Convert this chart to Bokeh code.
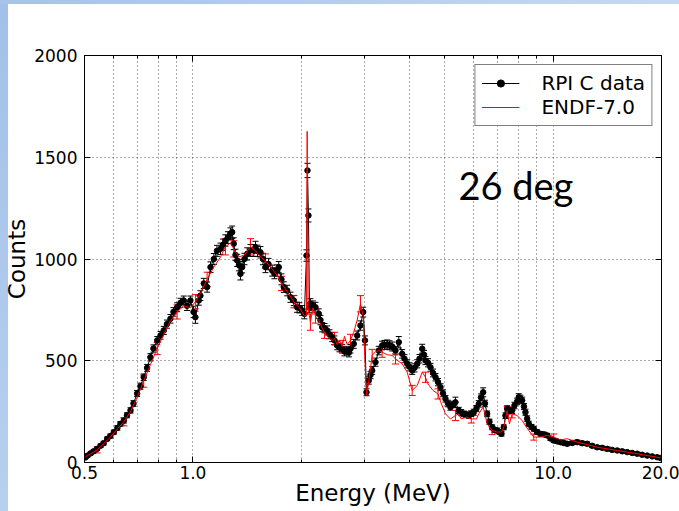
from bokeh.plotting import figure
from bokeh.models import (ColumnDataSource, Whisker, TeeHead, FixedTicker, LogAxis,
                          LinearAxis, Legend, LegendItem, Label, Range1d,
                          CustomJSTickFormatter)
from bokeh.embed import file_html
from bokeh.resources import INLINE

# ---------------- data ----------------
data_energy = [0.503, 0.510, 0.520, 0.530, 0.542, 0.554, 0.565, 0.578, 0.590, 0.603,
               0.617, 0.629, 0.643, 0.656, 0.671, 0.684, 0.700, 0.715, 0.730, 0.746,
               0.762, 0.777, 0.796, 0.813, 0.830, 0.847, 0.866, 0.883, 0.904, 0.924,
               0.943, 0.963, 0.984, 1.004, 1.016, 1.038, 1.049, 1.072, 1.095, 1.119,
               1.143, 1.166, 1.193, 1.212, 1.231, 1.251, 1.271, 1.285, 1.298, 1.313,
               1.327, 1.342, 1.355, 1.370, 1.390, 1.415, 1.445, 1.476, 1.492, 1.511,
               1.540, 1.565, 1.590, 1.621, 1.660, 1.684, 1.714, 1.731, 1.761, 1.788,
               1.827, 1.866, 1.906, 1.947, 1.976, 2.011, 2.040, 2.067, 2.080, 2.093,
               2.107, 2.120, 2.154, 2.189, 2.236, 2.260, 2.285, 2.319, 2.359, 2.394,
               2.436, 2.472, 2.515, 2.552, 2.597, 2.635, 2.681, 2.712, 2.738, 2.796,
               2.858, 2.919, 2.970, 3.004, 3.033, 3.078, 3.112, 3.146, 3.213, 3.281,
               3.353, 3.403, 3.462, 3.514, 3.575, 3.651, 3.729, 3.811, 3.867, 3.935,
               3.993, 4.063, 4.123, 4.195, 4.257, 4.331, 4.381, 4.423, 4.495, 4.567,
               4.641, 4.716, 4.792, 4.869, 4.947, 5.026, 5.107, 5.189, 5.273, 5.357,
               5.471, 5.556, 5.649, 5.740, 5.833, 5.927, 6.022, 6.127, 6.218, 6.306,
               6.395, 6.469, 6.561, 6.658, 6.774, 6.874, 6.994, 7.098, 7.189, 7.296,
               7.376, 7.456, 7.566, 7.698, 7.812, 7.948, 8.030, 8.117, 8.206, 8.301,
               8.381, 8.473, 8.560, 8.709, 8.838, 9.021, 9.225, 9.434, 9.629, 9.834,
               10.044, 10.265, 10.484, 10.707, 10.942, 11.298, 11.665, 12.044, 12.435, 12.840,
               13.257, 13.688, 14.132, 14.592, 15.066, 15.556, 16.061, 16.583, 17.122, 17.678,
               18.253, 18.846, 19.458, 19.874]

data_counts = [25, 34, 45, 55, 67, 82, 95, 116, 130, 149,
               170, 190, 206, 232, 256, 290, 339, 375, 419, 465,
               517, 560, 600, 625, 649, 680, 706, 740, 763, 785,
               796, 770, 796, 740, 714, 796, 820, 880, 862, 960,
               1000, 1040, 1050, 1070, 1091, 1105, 1124, 1132, 1075, 1020,
               993, 970, 927, 960, 1000, 1025, 1042, 1042, 1058, 1040,
               1033, 1000, 960, 975, 943, 930, 943, 960, 900, 862,
               845, 812, 796, 763, 760, 747, 730, 1017, 1435, 1214,
               760, 780, 770, 763, 731, 700, 665, 660, 649, 630,
               616, 600, 575, 565, 559, 545, 550, 540, 559, 583,
               624, 673, 739, 600, 345, 403, 430, 452, 493, 550,
               575, 578, 580, 576, 570, 550, 591, 534, 510, 485,
               470, 452, 465, 485, 510, 559, 530, 501, 490, 468,
               440, 419, 395, 370, 340, 313, 290, 272, 285, 296,
               256, 245, 239, 235, 231, 240, 247, 265, 288, 320,
               345, 290, 239, 200, 173, 160, 157, 150, 141, 173,
               230, 264, 256, 256, 280, 300, 321, 315, 305, 275,
               247, 215, 190, 175, 166, 150, 141, 138, 133, 118,
               108, 104, 100, 96, 92, 96, 100, 95, 92, 82,
               75, 72, 67, 62, 59, 55, 51, 47, 43, 38,
               34, 30, 26, 22]

data_error = [6, 6, 7, 7, 8, 8, 9, 9, 10, 10,
              11, 11, 12, 12, 13, 14, 15, 15, 16, 17,
              18, 18, 19, 19, 20, 20, 21, 21, 22, 22,
              22, 23, 22, 28, 30, 23, 24, 25, 25, 26,
              27, 27, 28, 28, 28, 29, 29, 30, 29, 28,
              30, 28, 30, 28, 28, 30, 29, 29, 29, 28,
              28, 28, 27, 28, 27, 27, 28, 28, 27, 26,
              26, 25, 25, 25, 25, 24, 24, 28, 35, 32,
              24, 25, 24, 24, 24, 23, 23, 23, 22, 22,
              22, 22, 21, 21, 21, 21, 21, 21, 21, 22,
              22, 23, 24, 22, 17, 18, 18, 19, 20, 21,
              21, 22, 22, 22, 22, 21, 28, 21, 20, 20,
              20, 19, 20, 20, 21, 22, 21, 20, 20, 19,
              19, 18, 18, 17, 17, 16, 16, 15, 16, 25,
              15, 15, 14, 14, 14, 14, 15, 15, 16, 17,
              22, 16, 14, 13, 12, 12, 12, 11, 11, 12,
              14, 15, 15, 15, 16, 16, 17, 16, 16, 15,
              15, 14, 13, 12, 12, 11, 11, 11, 10, 10,
              10, 9, 9, 9, 9, 9, 9, 9, 9, 8,
              8, 8, 7, 7, 7, 7, 7, 6, 6, 6,
              6, 5, 5, 5]

endf_energy = [0.503, 0.520, 0.542, 0.565, 0.590, 0.617, 0.643, 0.671, 0.700, 0.730,
               0.762, 0.796, 0.830, 0.866, 0.904, 0.943, 0.984, 1.016, 1.049, 1.095,
               1.143, 1.193, 1.231, 1.271, 1.298, 1.342, 1.390, 1.445, 1.492, 1.540,
               1.590, 1.660, 1.714, 1.761, 1.827, 1.906, 1.976, 2.040, 2.067, 2.076,
               2.088, 2.120, 2.154, 2.189, 2.236, 2.285, 2.319, 2.359, 2.436, 2.472,
               2.515, 2.552, 2.597, 2.635, 2.681, 2.738, 2.796, 2.858, 2.919, 2.970,
               3.004, 3.033, 3.078, 3.146, 3.213, 3.281, 3.353, 3.462, 3.575, 3.651,
               3.811, 3.935, 4.063, 4.195, 4.331, 4.423, 4.495, 4.641, 4.792, 4.869,
               5.026, 5.189, 5.357, 5.471, 5.556, 5.740, 5.927, 6.127, 6.218, 6.395,
               6.561, 6.774, 6.994, 7.189, 7.296, 7.376, 7.456, 7.566, 7.698, 7.948,
               8.206, 8.560, 8.838, 9.225, 9.629, 10.044, 10.484, 10.942, 11.665, 12.435,
               13.257, 14.132, 15.066, 16.061, 17.122, 18.253, 19.458, 19.874]

endf_counts = [28, 42, 62, 92, 125, 165, 200, 250, 320, 400,
               480, 560, 630, 695, 740, 770, 760, 790, 830, 900,
               960, 1010, 1060, 1080, 1050, 1010, 1020, 1060, 1040, 1010,
               990, 950, 920, 880, 840, 790, 760, 720, 720, 1627,
               760, 690, 760, 720, 700, 660, 640, 620, 600, 610,
               580, 600, 570, 620, 580, 600, 640, 700, 780, 720,
               500, 330, 400, 526, 545, 550, 542, 530, 526, 509,
               485, 444, 354, 378, 444, 419, 386, 354, 337, 300,
               239, 214, 231, 239, 214, 223, 214, 214, 239, 272,
               190, 157, 149, 150, 174, 215, 255, 190, 239, 231,
               206, 157, 125, 125, 133, 125, 111, 117, 100, 88,
               75, 67, 59, 51, 43, 34, 26, 23]

endf_error = [0, 0, 15, 0, 0, 0, 20, 0, 0, 30,
              0, 30, 0, 0, 35, 0, 0, 35, 0, 35,
              0, 0, 40, 0, 40, 0, 0, 40, 0, 0,
              35, 0, 0, 35, 0, 30, 0, 0, 0, 0,
              0, 40, 0, 35, 0, 0, 30, 0, 0, 30,
              0, 0, 30, 0, 0, 30, 0, 0, 40, 0,
              0, 0, 0, 30, 0, 0, 25, 0, 0, 25,
              0, 0, 25, 0, 0, 25, 0, 0, 25, 0,
              0, 0, 25, 0, 0, 0, 20, 0, 0, 0,
              0, 20, 0, 0, 0, 0, 20, 0, 20, 0,
              0, 0, 15, 0, 0, 15, 0, 0, 10, 0,
              0, 10, 0, 0, 8, 0, 0, 0]

x_major_ticks = [0.5, 1, 10, 20]
x_minor_ticks = [0.6, 0.7, 0.8, 0.9, 2, 3, 4, 5, 6, 7, 8, 9]
y_ticks = [0, 500, 1000, 1500, 2000]

assert len(data_energy) == len(data_counts) == len(data_error)
assert len(endf_energy) == len(endf_counts) == len(endf_error)

# ---------------- sources ----------------
data_src = ColumnDataSource(dict(
    e=data_energy, c=data_counts,
    lo=[c - s for c, s in zip(data_counts, data_error)],
    hi=[c + s for c, s in zip(data_counts, data_error)]))
endf_src = ColumnDataSource(dict(e=endf_energy, c=endf_counts))
eb = [(e, c, s) for e, c, s in zip(endf_energy, endf_counts, endf_error) if s > 0]
endf_err_src = ColumnDataSource(dict(
    e=[t[0] for t in eb],
    lo=[t[1] - t[2] for t in eb],
    hi=[t[1] + t[2] for t in eb]))

FONT = "DejaVu Sans"

p = figure(width=679, height=511, x_axis_type="log",
           x_range=Range1d(0.5, 20), y_range=Range1d(0, 2000),
           output_backend="svg", toolbar_location=None,
           min_border_left=84, min_border_right=18,
           min_border_top=55, min_border_bottom=49)
p.background_fill_color = "white"
p.border_fill_color = None
p.outline_line_color = "black"
p.outline_line_width = 1

xticker = FixedTicker(ticks=x_major_ticks, minor_ticks=x_minor_ticks)
yticker = FixedTicker(ticks=y_ticks, minor_ticks=[])

xa = p.xaxis[0]
xa.ticker = xticker
xa.formatter = CustomJSTickFormatter(code="return tick.toFixed(1);")
xa.axis_label = "Energy (MeV)"
ya = p.yaxis[0]
ya.ticker = yticker
ya.axis_label = "Counts"

for ax in (xa, ya):
    ax.axis_label_text_font = FONT
    ax.axis_label_text_font_size = "23px"
    ax.axis_label_text_font_style = "normal"
    ax.axis_label_text_color = "black"
    ax.major_label_text_font = FONT
    ax.major_label_text_font_size = "17px"
    ax.major_label_text_color = "black"
    ax.axis_line_color = "black"
    ax.major_tick_line_color = "black"
    ax.minor_tick_line_color = "black"
    ax.major_tick_in = 6
    ax.major_tick_out = 0
    ax.minor_tick_in = 3
    ax.minor_tick_out = 0
xa.major_label_standoff = 3
xa.axis_label_standoff = -2
ya.major_label_standoff = 7
ya.axis_label_standoff = 1

blank = CustomJSTickFormatter(code="return '';")
top = LogAxis(ticker=xticker, formatter=blank,
              major_tick_in=6, major_tick_out=0, minor_tick_in=3, minor_tick_out=0,
              major_label_standoff=0, axis_line_color="black")
right = LinearAxis(ticker=yticker, formatter=blank,
                   major_tick_in=6, major_tick_out=0, minor_tick_in=0, minor_tick_out=0,
                   major_label_standoff=0, axis_line_color="black")
p.add_layout(top, "above")
p.add_layout(right, "right")

p.xgrid.ticker = xticker
p.ygrid.ticker = yticker
p.xgrid.grid_line_color = "#555555"
p.xgrid.grid_line_dash = "1 3"
p.xgrid.minor_grid_line_color = "#555555"
p.xgrid.minor_grid_line_dash = "1 3"
p.ygrid.grid_line_color = "#555555"
p.ygrid.grid_line_dash = "1 3"

# ---------------- glyphs ----------------
d_line = p.line("e", "c", source=data_src, line_color="black", line_width=1)
d_pts = p.scatter("e", "c", source=data_src, size=5.5, fill_color="black",
                  line_color="black")
p.add_layout(Whisker(source=data_src, base="e", lower="lo", upper="hi",
                     dimension="height", line_color="black", line_width=1,
                     upper_head=TeeHead(size=6, line_color="black", line_width=1),
                     lower_head=TeeHead(size=6, line_color="black", line_width=1)))
r_line = p.line("e", "c", source=endf_src, line_color="#ff0000", line_width=1)
p.add_layout(Whisker(source=endf_err_src, base="e", lower="lo", upper="hi",
                     dimension="height", line_color="#ff0000", line_width=1,
                     upper_head=TeeHead(size=7, line_color="#ff0000", line_width=1),
                     lower_head=TeeHead(size=7, line_color="#ff0000", line_width=1)))

legend = Legend(items=[LegendItem(label="RPI C data", renderers=[d_line, d_pts]),
                       LegendItem(label="ENDF-7.0", renderers=[r_line])],
                location="top_right", margin=9, padding=6, spacing=0,
                glyph_width=38, glyph_height=18, label_height=18,
                label_standoff=22, label_text_font=FONT,
                label_text_font_size="20px", label_text_color="black",
                border_line_color="black", border_line_width=1,
                background_fill_color="white", background_fill_alpha=1)
p.add_layout(legend)

p.add_layout(Label(x=5.46, y=1366, text="26 deg", text_font="Lato",
                   text_font_size="38px", text_color="black",
                   text_baseline="middle", text_align="left"))

html = file_html(p, INLINE)
style = ("<style>html, body { background: "
         "linear-gradient(to right, #a6c3ea, #c6d9f2) left top / 100% 4px no-repeat, "
         "linear-gradient(to bottom, #a2c0e8, #b8d0ef) left top / 8px 100% no-repeat, "
         "#ffffff; }</style>")
html = html.replace("</head>", style + "</head>", 1)
open("out.html", "w").write(html)
